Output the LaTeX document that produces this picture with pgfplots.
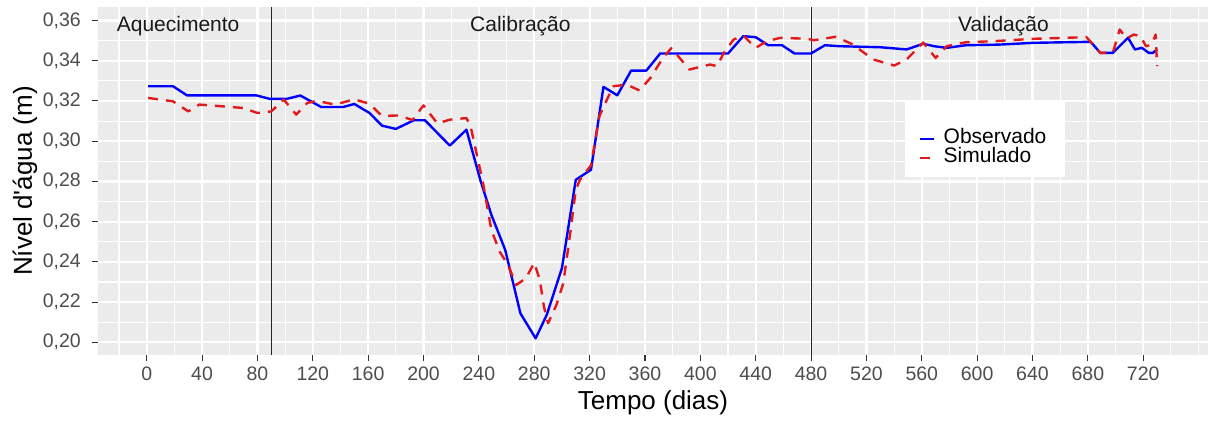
\documentclass[border=0pt]{standalone}
\usepackage{fontspec}
\setmainfont{Liberation Sans}
\usepackage{pgfplots}
\pgfplotsset{compat=1.18}
\definecolor{panelbg}{HTML}{EBEBEB}
\definecolor{ticktext}{HTML}{4D4D4D}
\definecolor{tickcol}{HTML}{333333}
\definecolor{obsblue}{HTML}{0000FF}
\definecolor{simred}{HTML}{E31A1C}

\pgfplotstableread{
x y
1 0.3273
19 0.3273
29 0.3228
79 0.3228
89 0.3210
101 0.3210
111 0.3227
126 0.3170
142 0.3170
150 0.3185
161 0.3140
170 0.3077
180 0.3061
193 0.3104
201 0.3104
219 0.2978
231 0.3057
241 0.2808
249 0.2634
259 0.2460
270 0.2144
281 0.2020
289 0.2136
300 0.2369
310 0.2808
321 0.2858
330 0.3270
340 0.3228
350 0.3351
361 0.3351
371 0.3436
420 0.3436
431 0.3522
440 0.3517
449 0.3477
459 0.3477
468 0.3436
480 0.3436
490 0.3477
501 0.3472
530 0.3467
549 0.3456
561 0.3484
569 0.3472
578 0.3464
592 0.3477
616 0.3480
641 0.3489
682 0.3494
689 0.3439
698 0.3439
709 0.3514
714 0.3456
719 0.3464
724 0.3439
727 0.3439
730 0.3456
}\obs

\pgfplotstableread{
x y
1 0.3215
19 0.3198
30 0.3148
38 0.3182
70 0.3165
80 0.3140
90 0.3148
99 0.3207
108 0.3132
116 0.3190
123 0.3200
136 0.3182
150 0.3208
161 0.3186
170 0.3125
182 0.3128
192 0.3105
200 0.3178
210 0.3088
219 0.3107
231 0.3115
234 0.3074
243 0.2792
249 0.2559
255 0.2451
261 0.2385
267 0.2285
274 0.2319
280 0.2396
284 0.2310
287 0.2177
290 0.2095
296 0.2186
301 0.2294
306 0.2543
310 0.2758
313 0.2808
321 0.2880
327 0.3124
337 0.3273
347 0.3281
356 0.3252
364 0.3315
373 0.3414
379 0.3462
386 0.3406
392 0.3356
407 0.3381
412 0.3373
417 0.3439
424 0.3505
431 0.3525
440 0.3464
448 0.3497
458 0.3514
477 0.3509
482 0.3502
498 0.3519
510 0.3481
525 0.3406
540 0.3376
549 0.3406
561 0.3490
570 0.3414
578 0.3472
592 0.3492
612 0.3497
641 0.3509
679 0.3517
689 0.3439
698 0.3439
703 0.3555
708 0.3510
713 0.3530
718 0.3522
722 0.3472
726 0.3480
729 0.3530
730 0.3373
}\sim

\begin{document}
\begin{tikzpicture}
\begin{axis}[
  scale only axis, width=1110pt, height=348pt,
  xmin=-35.2, xmax=766.8, ymin=0.1937, ymax=0.3667,
  axis background/.style={fill=panelbg},
  axis line style={draw=none},
  xtick={0,40,80,120,160,200,240,280,320,360,400,440,480,520,560,600,640,680,720},
  minor xtick={-20,20,60,100,140,180,220,260,300,340,380,420,460,500,540,580,620,660,700,740,760},
  ytick={0.20,0.22,0.24,0.26,0.28,0.30,0.32,0.34,0.36},
  minor ytick={0.21,0.23,0.25,0.27,0.29,0.31,0.33,0.35},
  grid=both,
  major grid style={white, line width=2.2pt},
  minor grid style={white, line width=1.1pt},
  tick align=outside,
  tick pos=left,
  major tick length=6pt,
  minor tick length=0pt,
  every tick/.style={tickcol, line width=1.1pt},
  /pgf/number format/assume math mode=true,
  tick label style={font=\fontsize{19.5}{19.5}\selectfont, text=ticktext, inner sep=0pt},
  xticklabel style={anchor=north, yshift=-5.5pt},
  yticklabel style={anchor=east, xshift=-11pt, /pgf/number format/.cd, fixed, fixed zerofill, precision=2, use comma},
  xlabel={Tempo (dias)},
  ylabel={Nível d\textquotesingle água (m)},
  every axis x label/.style={at={(axis description cs:0.5,-0.138)}, anchor=center, font=\fontsize{26}{26}\selectfont},
  every axis y label/.style={at={(axis description cs:-0.0658,0.5)}, rotate=90, anchor=center, font=\fontsize{26}{26}\selectfont},
  legend style={at={(axis description cs:0.737,0.655)}, anchor=north west, fill=none, draw=none,
    font=\fontsize{21}{21}\selectfont, nodes={inner sep=1pt, text height=13pt, text depth=4pt}, row sep=0pt, column sep=7pt},
  legend cell align=left,
  legend image code/.code={\draw[#1] (0pt,0pt) -- (14pt,0pt);},
]
\fill[white] (axis cs:548,0.3197) rectangle (axis cs:663.5,0.2823);
\addplot[black!85, line width=1pt, forget plot] coordinates {(90,0.1937) (90,0.3667)};
\addplot[black!85, line width=1pt, forget plot] coordinates {(480,0.1937) (480,0.3667)};
\addplot[obsblue, line width=2.4pt, line join=round] table[x=x,y=y] {\obs};
\addlegendentry{Observado}
\addplot[simred, line width=2.4pt, line join=round, dash pattern=on 10pt off 8pt] table[x=x,y=y] {\sim};
\addlegendentry{Simulado}
\node[anchor=base, font=\fontsize{21}{21}\selectfont, text=black!90] at (axis cs:22.7,0.3545) {Aquecimento};
\node[anchor=base, font=\fontsize{21}{21}\selectfont, text=black!90] at (axis cs:270,0.3545) {Calibração};
\node[anchor=base, font=\fontsize{21}{21}\selectfont, text=black!90] at (axis cs:619,0.3545) {Validação};
\end{axis}
\pgfresetboundingbox
\path ([xshift=-98pt,yshift=-66pt]current axis.south west) rectangle ([yshift=7pt]current axis.north east);
\end{tikzpicture}
\end{document}
